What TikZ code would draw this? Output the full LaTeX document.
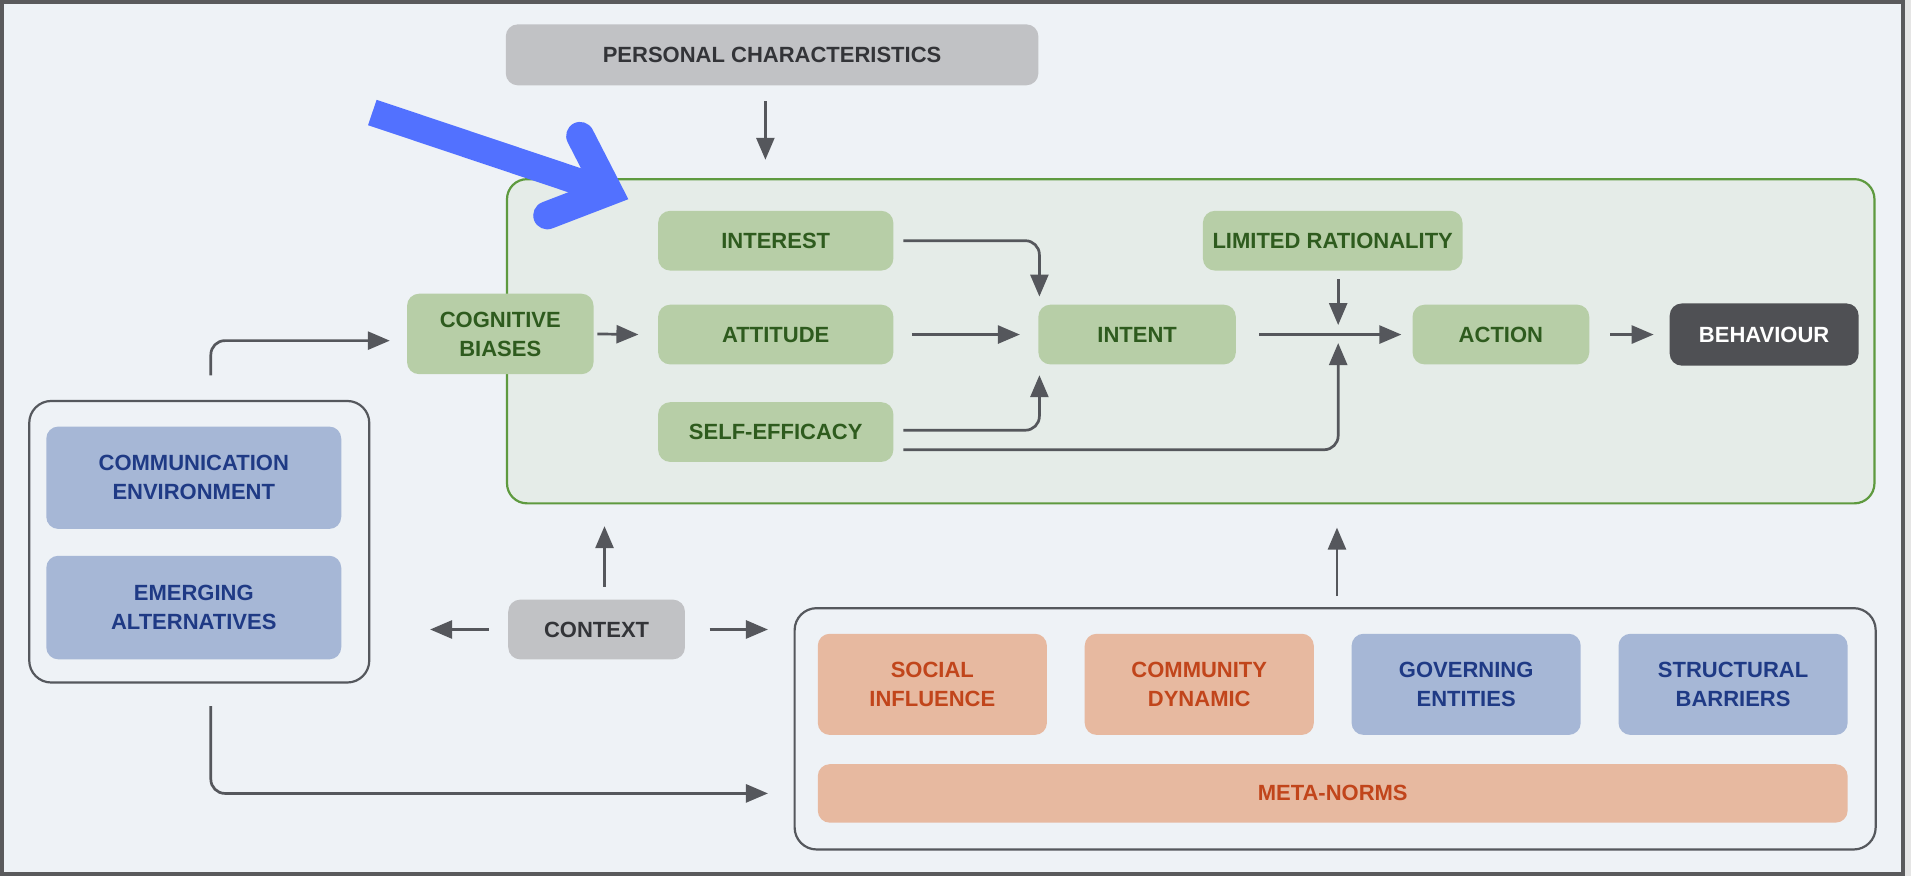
\documentclass[tikz,border=0pt]{standalone}
\usepackage{fontspec}
\setmainfont{Liberation Sans}
\usetikzlibrary{arrows.meta,calc}
\newdimen\uu \uu=1.2188pt
\definecolor{bg}{HTML}{EEF2F6}
\definecolor{framec}{HTML}{5A5A5C}
\definecolor{corefill}{HTML}{E5ECE8}
\definecolor{gline}{HTML}{5E9A3F}
\definecolor{gfill}{HTML}{B7CEA7}
\definecolor{gtext}{HTML}{2E5B1E}
\definecolor{grfill}{HTML}{C1C2C5}
\definecolor{grtext}{HTML}{333438}
\definecolor{bfill}{HTML}{A6B7D6}
\definecolor{btext}{HTML}{1F3A85}
\definecolor{sfill}{HTML}{E7B9A0}
\definecolor{stext}{HTML}{C1451B}
\definecolor{darkc}{HTML}{4F5054}
\definecolor{arrc}{HTML}{55575C}
\definecolor{contline}{HTML}{55585D}
\definecolor{bluec}{HTML}{5271FF}
\begin{document}
\begin{tikzpicture}[x=1.2188pt,y=-1.2188pt,
  lbl/.style={font=\fontsize{22}{29}\selectfont\bfseries, align=center, inner sep=0pt, rounded corners=12pt},
  gbox/.style={lbl, fill=gfill, text=gtext},
  bbox/.style={lbl, fill=bfill, text=btext},
  sbox/.style={lbl, fill=sfill, text=stext},
  graybox/.style={lbl, fill=grfill, text=grtext},
  container/.style={draw=contline, line width=2.2pt, rounded corners=22pt, inner sep=0pt},
  arr/.style={draw=arrc, line width=2.7pt, -{Triangle[length=22pt,width=18pt]}},
  curved/.style={rounded corners=14pt},
  bluearrow/.style={draw=bluec, line width=26.8pt},
  ]
% background and frame
\fill[bg] (0,0) rectangle (1568,719);
\fill[black!10] (1563,0) rectangle (1568,719);
\draw[framec, line width=4pt] (1.7,1.7) rectangle (1561.5,717);
\useasboundingbox (0,0) rectangle (1568,719);

% containers
\node[draw=gline, line width=2.2pt, fill=corefill, rounded corners=20pt, inner sep=0pt,
      minimum width=1122\uu, minimum height=266\uu] (core) at (977,280) {};
\node[container, minimum width=279\uu, minimum height=231\uu] (leftbox) at (163.5,444.5) {};
\node[container, minimum width=887\uu, minimum height=198\uu] (bottom) at (1095.5,598) {};

% nodes
\node[graybox, minimum width=437\uu, minimum height=50\uu] (pers) at (633.5,45) {PERSONAL CHARACTERISTICS};
\node[gbox, minimum width=193\uu, minimum height=49\uu] (interest) at (636.5,197.5) {INTEREST};
\node[gbox, minimum width=193\uu, minimum height=49\uu] (attitude) at (636.5,274.5) {ATTITUDE};
\node[gbox, minimum width=193\uu, minimum height=49\uu] (selfeff) at (636.5,354.5) {SELF-EFFICACY};
\node[gbox, minimum width=153\uu, minimum height=66\uu] (cog) at (410.5,274) {COGNITIVE\\BIASES};
\node[gbox, minimum width=162\uu, minimum height=49\uu] (intent) at (933,274.5) {INTENT};
\node[gbox, minimum width=213\uu, minimum height=49\uu] (limrat) at (1093.5,197.5) {LIMITED RATIONALITY};
\node[gbox, minimum width=145\uu, minimum height=49\uu] (action) at (1231.5,274.5) {ACTION};
\node[lbl, fill=darkc, text=white, minimum width=155\uu, minimum height=51\uu] (behav) at (1447.5,274.5) {BEHAVIOUR};

\node[bbox, minimum width=242\uu, minimum height=84\uu] (comm) at (159,392) {COMMUNICATION\\ENVIRONMENT};
\node[bbox, minimum width=242\uu, minimum height=85\uu] (emerg) at (159,498.5) {EMERGING\\ALTERNATIVES};
\node[graybox, minimum width=145\uu, minimum height=49\uu] (context) at (489.5,516.5) {CONTEXT};

\node[sbox, minimum width=188\uu, minimum height=83\uu] (social) at (765,561.5) {SOCIAL\\INFLUENCE};
\node[sbox, minimum width=188\uu, minimum height=83\uu] (community) at (984,561.5) {COMMUNITY\\DYNAMIC};
\node[bbox, minimum width=188\uu, minimum height=83\uu] (governing) at (1203,561.5) {GOVERNING\\ENTITIES};
\node[bbox, minimum width=188\uu, minimum height=83\uu] (structural) at (1422,561.5) {STRUCTURAL\\BARRIERS};
\node[sbox, minimum width=845\uu, minimum height=48\uu] (meta) at (1093.5,651) {META-NORMS};

% helper coordinates
\coordinate (junc) at (1098,273.5);
\coordinate (pa) at ([xshift=-5.5\uu]pers.south);
\coordinate (ca) at ([xshift=6.5\uu]context.north);
\coordinate (ba) at ([xshift=1.5\uu]bottom.north);
\coordinate (la) at ([xshift=9.5\uu]leftbox.north);
\coordinate (lb) at ([xshift=9.5\uu]leftbox.south);

% connectors
\draw[arr] ([yshift=-13\uu]pa) -- ([yshift=15\uu]pa |- core.north);
\draw[arr] ([xshift=3\uu]cog.east) -- ([xshift=-16\uu]attitude.west);
\draw[arr] ([xshift=15\uu]attitude.east) -- ([xshift=-15\uu]intent.west);
\draw[arr, curved] ([xshift=8\uu]interest.east) -| ([xshift=1\uu,yshift=6.5\uu]intent.north west);
\draw[arr, curved] ([xshift=8\uu,yshift=1.5\uu]selfeff.east) -| ([xshift=1\uu,yshift=-8.7\uu]intent.south west);
\draw[arr, curved] ([xshift=8\uu,yshift=-14.5\uu]selfeff.east) -| ([yshift=-8\uu]junc);
\draw[arr] ([yshift=-7\uu]limrat.south -| junc) -- ([yshift=6.8\uu]junc);
\draw[arr] ([xshift=19\uu]intent.east) -- ([xshift=-9\uu]action.west);
\draw[arr] ([xshift=17\uu]action.east) -- ([xshift=-13\uu]behav.west);
\draw[arr, curved] ([yshift=20\uu]la) |- ([xshift=-14\uu,yshift=-5.5\uu]cog.west);
\draw[arr, curved] ([yshift=-18.5\uu]lb) |- ([xshift=-21\uu,yshift=-53\uu]bottom.west);
\draw[arr] ([yshift=10.4\uu]ca) -- ([yshift=-17.8\uu]ca |- core.south);
\draw[arr] ([xshift=-16\uu]context.west) -- ([xshift=49\uu]leftbox.east |- context.west);
\draw[arr] ([xshift=20\uu]context.east) -- ([xshift=-21\uu]bottom.west |- context.east);
\draw[arr] ([yshift=9\uu]ba) -- ([yshift=-19\uu]ba |- core.south);

% blue highlight arrow
\draw[bluearrow, line cap=butt] (305.5,92.3) -- (499.5,157.3);
\draw[draw=bluec, line width=28pt, line cap=round, line join=miter] (476,111.5) -- (499.5,157.3) -- (449,176.7);
\end{tikzpicture}
\end{document}
